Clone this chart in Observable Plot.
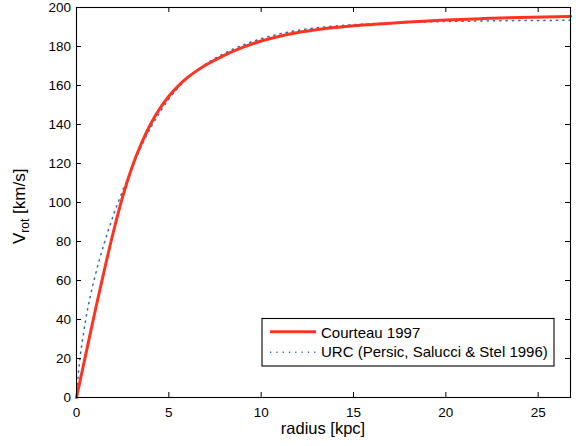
<!DOCTYPE html>
<html>
<head>
<meta charset="utf-8">
<script src="https://cdn.jsdelivr.net/npm/d3@7"></script>
<script src="https://cdn.jsdelivr.net/npm/@observablehq/plot@0.6"></script>
<style>
  html, body { margin: 0; padding: 0; background: white; }
</style>
</head>
<body>
<div id="chart"></div>
<script>
// radius [kpc]
const radius = [0, 0.1, 0.2, 0.35, 0.5, 0.75, 1, 1.25, 1.5, 2, 2.5, 3, 3.5, 4, 4.5, 5, 5.5, 6, 6.5, 7, 8, 9, 10, 11, 12, 13, 14, 16, 18, 20, 22, 24, 26, 26.75];
// Courteau 1997 rotation curve [km/s]
const courteau = [0, 4.4, 8.8, 15.4, 22, 33, 44, 54.5, 65, 85, 103, 118, 130, 140, 148, 154.5, 159.7, 164, 167.5, 170.5, 175.5, 179.5, 182.8, 185.3, 187.2, 188.6, 189.7, 191.3, 192.6, 193.6, 194.3, 194.9, 195.3, 195.4];
// URC (Persic, Salucci & Stel 1996) [km/s]
const urc = [0, 12, 21, 31, 40, 52, 62, 71, 79, 93.5, 106, 117.5, 128.5, 138, 146, 153, 158.8, 163.5, 167.5, 171, 176.5, 180.7, 184, 186.5, 188.3, 189.6, 190.5, 191.7, 192.4, 192.8, 193.1, 193.3, 193.4, 193.5];

const xTicks = [0, 5, 10, 15, 20, 25];
const yTicks = [0, 20, 40, 60, 80, 100, 120, 140, 160, 180, 200];
const seriesNames = ["Courteau 1997", "URC (Persic, Salucci & Stel 1996)"];
const xLabel = "radius [kpc]";

const redColor = "#ff3322";
const blueColor = "#2f6db5";

const dataC = radius.map((r, i) => ({r, v: courteau[i]}));
const dataU = radius.map((r, i) => ({r, v: urc[i]}));

const W = 579, H = 446;
const mL = 76, mR = 9, mT = 7, mB = 49;
const innerW = W - mL - mR, innerH = H - mT - mB;
const tick = 5;

const chart = Plot.plot({
  width: W, height: H,
  marginLeft: mL, marginRight: mR, marginTop: mT, marginBottom: mB,
  x: {domain: [0, 26.75]},
  y: {domain: [0, 200]},
  style: {fontFamily: "'Liberation Sans', Arial, Helvetica, sans-serif", fontSize: "13.5px", color: "black", background: "white"},
  marks: [
    Plot.line(dataU, {x: "r", y: "v", stroke: blueColor, strokeWidth: 1.5, strokeDasharray: "1.3,5", curve: "monotone-x"}),
    Plot.line(dataC, {x: "r", y: "v", stroke: redColor, strokeWidth: 3, curve: "monotone-x"}),
    Plot.ruleX(xTicks, {x: d => d, insetTop: innerH - tick, stroke: "black"}),
    Plot.ruleX(xTicks, {x: d => d, insetBottom: innerH - tick, stroke: "black"}),
    Plot.ruleY(yTicks, {y: d => d, insetRight: innerW - tick, stroke: "black"}),
    Plot.ruleY(yTicks, {y: d => d, insetLeft: innerW - tick, stroke: "black"}),
    Plot.frame({stroke: "black", strokeWidth: 1.1}),
    Plot.axisX(xTicks, {tickSize: 0, tickPadding: 9.5, label: null, fontSize: 13.5}),
    Plot.axisY(yTicks, {tickSize: 0, tickPadding: 5.5, label: null, fontSize: 13.5})
  ]
});

document.getElementById("chart").appendChild(chart);

const svg = d3.select(chart);
const ff = "'Liberation Sans', Arial, Helvetica, sans-serif";

// x label
svg.append("text")
  .attr("x", mL + innerW / 2).attr("y", 434)
  .attr("text-anchor", "middle")
  .attr("font-family", ff).attr("font-size", 16.5)
  .attr("fill", "black")
  .text(xLabel);

// y label with subscript
const yl = svg.append("text")
  .attr("transform", "translate(24.5,244) rotate(-90)")
  .attr("text-anchor", "start")
  .attr("font-family", ff).attr("font-size", 17)
  .attr("fill", "black");
yl.append("tspan").text("V");
yl.append("tspan").attr("font-size", 12).attr("dy", 4).text("rot");
yl.append("tspan").attr("dy", -4).text(" [km/s]");

// legend
const lg = svg.append("g");
lg.append("rect").attr("x", 262).attr("y", 318.5).attr("width", 292).attr("height", 47.5)
  .attr("fill", "white").attr("stroke", "black").attr("stroke-width", 1.1);
lg.append("line").attr("x1", 270).attr("x2", 316).attr("y1", 331.7).attr("y2", 331.7)
  .attr("stroke", redColor).attr("stroke-width", 3);
lg.append("line").attr("x1", 270).attr("x2", 316).attr("y1", 352.3).attr("y2", 352.3)
  .attr("stroke", blueColor).attr("stroke-width", 1.5).attr("stroke-dasharray", "1.3,5");
lg.append("text").attr("x", 321).attr("y", 337.5).attr("text-anchor", "start").attr("font-family", ff).attr("font-size", 15)
  .attr("fill", "black").text(seriesNames[0]);
lg.append("text").attr("x", 321).attr("y", 357.3).attr("text-anchor", "start").attr("font-family", ff).attr("font-size", 15)
  .attr("fill", "black").text(seriesNames[1]);
</script>
</body>
</html>
